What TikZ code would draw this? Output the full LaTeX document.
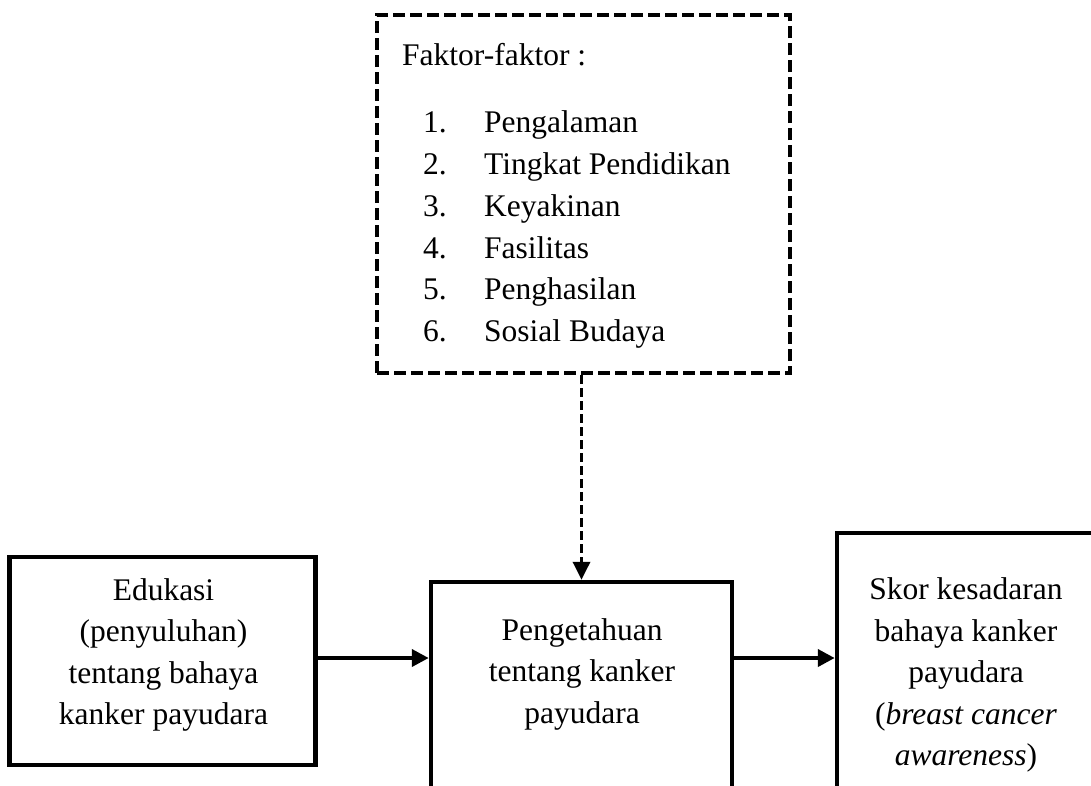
\documentclass[tikz,border=0pt]{standalone}
\usepackage{fontspec}
\setmainfont{Liberation Serif}
\usetikzlibrary{arrows.meta}
\begin{document}
\begin{tikzpicture}[x=1pt,y=-1pt,
  solidbox/.style={draw, line width=4.5pt, rectangle, inner sep=0pt},
  dashbox/.style={draw, line width=4pt, dash pattern=on 12pt off 5pt, rectangle, inner sep=0pt},
  txt/.style={inner sep=0pt, align=center, font=\fontsize{31.5}{41.5}\selectfont},
  lst/.style={inner sep=0pt, anchor=base west, font=\fontsize{31.5}{41.5}\selectfont},
  arr/.style={line width=4pt, -{Triangle[length=17pt,width=17pt]}},
  darr/.style={line width=3.5pt, dash pattern=on 9pt off 4pt, -{Triangle[length=18pt,width=17pt]}}]
\useasboundingbox (0,0) rectangle (1091,785);
\fill[white] (0,0) rectangle (1091,785);
\clip (0,0) rectangle (1091,785);
% dashed factor box
\node[dashbox, minimum width=413pt, minimum height=358pt] (fak) at (583.5,194) {};
\node[lst] (fhead) at (402,65) {Faktor-faktor :};
\node[lst] (n1) at (423,132) {1.};
\node[lst] (n2) at (423,174) {2.};
\node[lst] (n3) at (423,216) {3.};
\node[lst] (n4) at (423,258) {4.};
\node[lst] (n5) at (423,299) {5.};
\node[lst] (n6) at (423,341) {6.};
\node[lst] (i1) at (484,132) {Pengalaman};
\node[lst] (i2) at (484,174) {Tingkat Pendidikan};
\node[lst] (i3) at (484,216) {Keyakinan};
\node[lst] (i4) at (484,258) {Fasilitas};
\node[lst] (i5) at (484,299) {Penghasilan};
\node[lst] (i6) at (484,341) {Sosial Budaya};
% boxes
\node[solidbox, minimum width=306pt, minimum height=208pt] (edu) at (162.5,661) {};
\node[txt] (edutxt) at (163.5,655) {Edukasi\\(penyuluhan)\\tentang bahaya\\kanker payudara};
\node[solidbox, minimum width=301pt, minimum height=318pt] (mid) at (581.5,741) {};
\node[txt] (midtxt) at (582,674) {Pengetahuan\\tentang kanker\\payudara};
\node[solidbox, minimum width=363pt, minimum height=367pt] (skor) at (1018.5,716.5) {};
\node[txt] (skortxt) at (966,675) {Skor kesadaran\\bahaya kanker\\payudara\\(\textit{breast cancer}\\\textit{awareness})};
% connectors
\coordinate (ay) at (0,658);
\draw[arr] (edu.east |- ay) -- (mid.west |- ay);
\draw[arr] (mid.east |- ay) -- (skor.west |- ay);
\draw[darr] (fak.south -| mid.north) -- (mid.north);
\end{tikzpicture}
\end{document}
